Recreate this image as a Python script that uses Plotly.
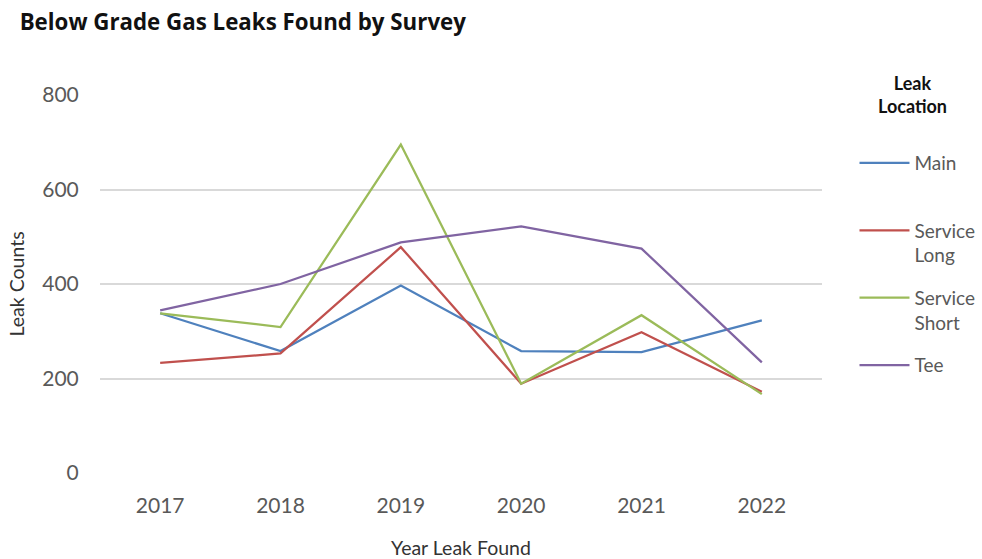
import plotly.graph_objects as go

years = ["2017", "2018", "2019", "2020", "2021", "2022"]
main = [338, 258, 397, 258, 256, 323]
service_long = [233, 253, 478, 189, 298, 172]
service_short = [338, 309, 695, 189, 334, 167]
tee = [344, 400, 488, 522, 475, 234]

series = [
    ("Main<br> ", main, "#4F81BD"),
    ("Service<br>Long", service_long, "#C0504D"),
    ("Service<br>Short", service_short, "#9BBB59"),
    ("Tee", tee, "#8064A2"),
]

font_family = "Lato, 'Open Sans', sans-serif"

fig = go.Figure()
for i, (name, vals, color) in enumerate(series):
    fig.add_trace(go.Scatter(
        x=years, y=vals, name=name, mode="lines",
        line=dict(color=color, width=2.25),
        legendgroup=str(i),
    ))

fig.add_annotation(
    text="<b>Leak<br>Location</b>", xref="paper", yref="paper",
    x=1.125, y=(559 - 86 - 70) / 378, xanchor="center", yanchor="top",
    showarrow=False, align="center",
    font=dict(size=18, color="#111111", family=font_family),
)

fig.update_layout(
    width=982, height=559,
    margin=dict(l=100, r=160, t=95, b=86, autoexpand=False),
    paper_bgcolor="white", plot_bgcolor="white",
    font=dict(family=font_family, color="#595959"),
    title=dict(text="<b>Below Grade Gas Leaks Found by Survey</b>",
               x=0.02, xanchor="left", y=0.96, yanchor="middle",
               font=dict(size=22.3, color="#111111", family="'Open Sans', sans-serif")),
    showlegend=True,
    legend=dict(
        x=1.045, xanchor="left", y=(559 - 86 - 144) / 378, yanchor="top",
        valign="top",
        tracegroupgap=15,
        maxheight=400,
        font=dict(size=19, color="#595959", family=font_family),
        itemwidth=50,
    ),
    xaxis=dict(
        type="category", range=[-0.5, 5.5],
        showgrid=False, zeroline=False, showline=False,
        ticks="outside", ticklen=14, tickcolor="rgba(0,0,0,0)",
        tickfont=dict(size=21, color="#595959"),
        title=dict(text="Year Leak Found", standoff=26,
                   font=dict(size=19.5, color="#333333")),
    ),
    yaxis=dict(
        range=[0, 800], tickvals=[0, 200, 400, 600, 800],
        showgrid=True, gridcolor="#D9D9D9", gridwidth=2,
        zeroline=False, showline=False,
        ticks="outside", ticklen=16, tickcolor="rgba(0,0,0,0)",
        tickfont=dict(size=21, color="#595959"),
        title=dict(text="Leak Counts", standoff=12,
                   font=dict(size=19.5, color="#333333")),
    ),
)

fig.write_html("out.html")
